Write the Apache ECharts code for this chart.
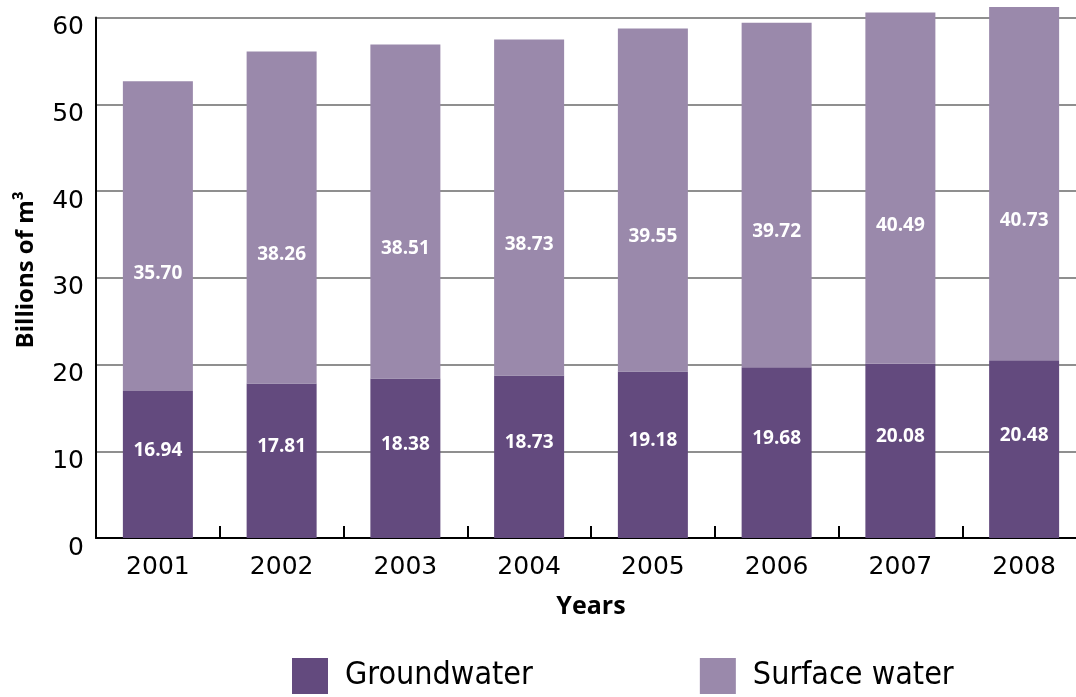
<!DOCTYPE html>
<html>
<head>
<meta charset="utf-8">
<script src="https://cdn.jsdelivr.net/npm/echarts@6/dist/echarts.min.js"></script>
<style>
  html, body { margin: 0; padding: 0; background: #fff; }
  #chart { width: 1076px; height: 697px; }
</style>
</head>
<body>
<div id="chart"></div>
<script>
// data
const years = ['2001', '2002', '2003', '2004', '2005', '2006', '2007', '2008'];
const groundwater = [16.94, 17.81, 18.38, 18.73, 19.18, 19.68, 20.08, 20.48];
const surfaceWater = [35.70, 38.26, 38.51, 38.73, 39.55, 39.72, 40.49, 40.73];

const chart = echarts.init(document.getElementById('chart'));

const labelStyle = {
    show: true,
    position: 'inside',
    color: '#fff',
    fontFamily: 'Open Sans',
    fontWeight: 'bold',
    fontSize: 19,
    formatter: p => p.value.toFixed(2)
};

chart.setOption({
    animation: false,
    grid: { left: 96, top: 17.5, width: 990, height: 520.5, outerBoundsMode: 'none', containLabel: false },
    legend: {
        bottom: -2,
        left: 287,
        itemWidth: 36,
        itemHeight: 36,
        itemGap: 167,
        icon: 'rect',
        textStyle: { fontSize: 32, color: '#000', fontFamily: 'DejaVu Sans Condensed', padding: [0, 0, 0, 12] },
        data: ['Groundwater', 'Surface water']
    },
    xAxis: {
        type: 'category',
        data: years,
        name: 'Years',
        nameLocation: 'middle',
        nameGap: 56,
        nameTextStyle: { fontSize: 25, fontWeight: 'bold', color: '#000', fontFamily: 'Open Sans' },
        axisLine: { lineStyle: { color: '#000', width: 2 } },
        axisTick: { show: true, inside: true, length: 12, lineStyle: { color: '#000', width: 2 } },
        axisLabel: { fontSize: 25, color: '#000', margin: 17, fontFamily: 'DejaVu Sans' }
    },
    yAxis: {
        type: 'value',
        min: 0,
        max: 60,
        interval: 10,
        name: 'Billions of m³',
        nameLocation: 'middle',
        nameRotate: 90,
        nameGap: 58,
        nameTextStyle: { fontSize: 24, fontWeight: 'bold', color: '#000', fontFamily: 'Open Sans', padding: [0, 0, 0, 16] },
        axisLine: { show: true, lineStyle: { color: '#000', width: 2 } },
        axisTick: { show: false },
        axisLabel: { fontSize: 25, color: '#000', margin: 12, fontFamily: 'DejaVu Sans', verticalAlign: 'top', lineHeight: 20 },
        splitLine: { lineStyle: { color: '#6a6a6a', width: 1.5 } }
    },
    series: [
        {
            name: 'Groundwater',
            type: 'bar',
            stack: 'total',
            data: groundwater,
            barWidth: 70,
            clip: false,
            itemStyle: { color: '#634a7e' },
            label: Object.assign({}, labelStyle, { offset: [0, -14] })
        },
        {
            name: 'Surface water',
            type: 'bar',
            stack: 'total',
            data: surfaceWater,
            barWidth: 70,
            clip: false,
            itemStyle: { color: '#9a89ab' },
            label: Object.assign({}, labelStyle, { offset: [0, 37] })
        }
    ]
});

window.addEventListener('resize', () => {
    chart.resize();
});
</script>
</body>
</html>
